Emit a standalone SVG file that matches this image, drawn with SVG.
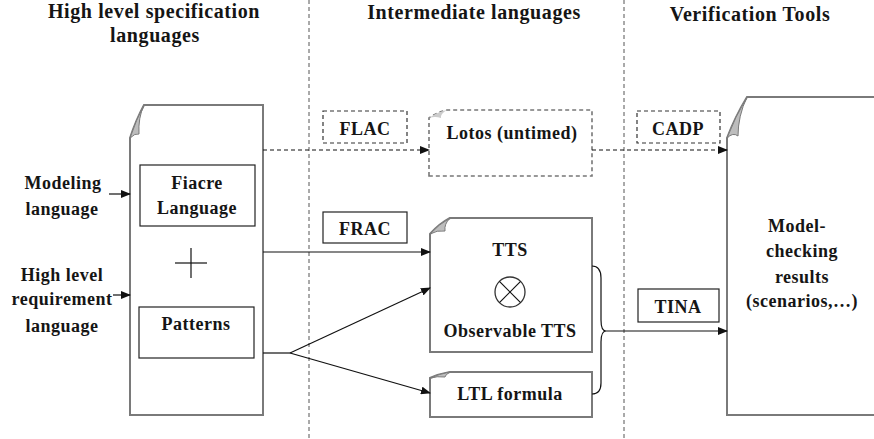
<svg xmlns="http://www.w3.org/2000/svg" width="874" height="439" viewBox="0 0 874 439">
<style>
text{font-family:"Liberation Serif","Times New Roman",serif;font-weight:bold;fill:#151515;text-anchor:middle;}
.h{font-size:20px;letter-spacing:0.6px;}
.t{font-size:18px;letter-spacing:0.5px;}
.sep{stroke:#555;stroke-width:1;stroke-dasharray:4 3;fill:none;}
.doc{fill:#fff;stroke:#7a7a7a;stroke-width:2;}
.curl{fill:#bdbdbd;stroke:#7a7a7a;stroke-width:1;}
.box{fill:#fff;stroke:#222;stroke-width:1.2;}
.dbox{fill:#fff;stroke:#333;stroke-width:1.2;stroke-dasharray:4 3;}
.ddoc{fill:#fff;stroke:#777;stroke-width:1.6;stroke-dasharray:4 3;}
.ln{stroke:#111;stroke-width:1.2;fill:none;}
.dl{stroke:#111;stroke-width:1.2;fill:none;stroke-dasharray:4 3;}
</style>
<defs>
<marker id="ah" markerWidth="10" markerHeight="8" refX="9" refY="4" orient="auto" markerUnits="userSpaceOnUse">
<path d="M0,0 L10,4 L0,8 Z" fill="#111"/>
</marker>
</defs>
<rect width="874" height="439" fill="#fff"/>
<g id="separators">
<line class="sep" x1="309" y1="0" x2="309" y2="439"/>
<line class="sep" x1="624" y1="0" x2="624" y2="439"/>
</g>
<g id="headings">
<text class="h" x="154" y="18">High level specification</text>
<text class="h" x="155" y="42">languages</text>
<text class="h" x="474" y="19">Intermediate languages</text>
<text class="h" x="750" y="21">Verification Tools</text>
</g>
<g id="inputs">
<text class="t" x="63" y="189">Modeling</text>
<text class="t" x="62" y="215">language</text>
<text class="t" x="62" y="281">High level</text>
<text class="t" x="62" y="305">requirement</text>
<text class="t" x="62" y="332">language</text>
</g>
<g id="highlevel">
<path class="doc" d="M130,415 L130,138 Q136,120 144,105 L263,105 L263,415 Z"/>
<path class="curl" d="M130,138 Q136,120 144,105 Q138,118 139,134 Q135,133 130,138 Z"/>
<g id="fiacre">
<rect class="box" x="140" y="165" width="115" height="61"/>
<text class="t" x="197" y="189">Fiacre</text>
<text class="t" x="197" y="214">Language</text>
</g>
<g id="plus">
<line class="ln" x1="175" y1="263" x2="207" y2="263" stroke-width="1"/>
<line class="ln" x1="191" y1="248" x2="191" y2="278" stroke-width="1"/>
</g>
<g id="patterns">
<rect class="box" x="139" y="307" width="115" height="51"/>
<text class="t" x="196" y="330">Patterns</text>
</g>
</g>
<g id="flac">
<rect class="dbox" x="323" y="111" width="84" height="32"/>
<text class="t" x="365" y="135">FLAC</text>
</g>
<g id="lotos">
<path class="ddoc" d="M429,176 L429,118 Q437,112 447,110 L592,110 L592,176 Z"/>
<path d="M429,118 Q437,112 447,110 Q440,114 441,118 Q435,116 429,118 Z" fill="#ccc" stroke="none"/>
<text class="t" x="512" y="139">Lotos (untimed)</text>
</g>
<g id="cadp">
<rect class="dbox" x="637" y="111" width="83" height="32"/>
<text class="t" x="678" y="135">CADP</text>
</g>
<g id="frac">
<rect class="box" x="323" y="212" width="84" height="31"/>
<text class="t" x="365" y="235">FRAC</text>
</g>
<g id="tts">
<path class="doc" d="M430,352 L430,234 Q439,224 450,218 L592,218 L592,352 Z"/>
<path class="curl" d="M430,234 Q439,224 450,218 Q444,224 445,231 Q437,230 430,234 Z"/>
<text class="t" x="510" y="256">TTS</text>
<circle cx="510" cy="292" r="15" fill="none" stroke="#333" stroke-width="1.3"/>
<line class="ln" x1="499.4" y1="281.4" x2="520.6" y2="302.6" stroke="#333"/>
<line class="ln" x1="520.6" y1="281.4" x2="499.4" y2="302.6" stroke="#333"/>
<text class="t" x="510" y="337">Observable TTS</text>
</g>
<g id="ltl">
<path class="doc" d="M430,417 L430,378 Q439,374 450,372 L592,372 L592,417 Z"/>
<path class="curl" d="M430,378 Q439,374 450,372 Q445,375 445,377 Q437,376 430,378 Z"/>
<text class="t" x="510" y="400">LTL formula</text>
</g>
<g id="tina">
<rect class="box" x="638" y="289" width="81" height="33"/>
<text class="t" x="678" y="313">TINA</text>
</g>
<g id="results">
<path class="doc" d="M727,415 L727,138 Q735,117 747,97 L880,97 L880,415 Z"/>
<path class="curl" d="M727,138 Q735,117 747,97 Q738,116 738,136 Q733,132 727,138 Z"/>
<text class="t" x="797" y="232">Model-</text>
<text class="t" x="802" y="257">checking</text>
<text class="t" x="802" y="283">results</text>
<text class="t" x="802" y="307">(scenarios,…)</text>
</g>
<g id="connectors">
<line class="ln" x1="109" y1="194" x2="130" y2="194" marker-end="url(#ah)"/>
<line class="ln" x1="113" y1="295" x2="130" y2="295" marker-end="url(#ah)"/>
<line class="dl" x1="263" y1="150" x2="429" y2="150" marker-end="url(#ah)"/>
<line class="dl" x1="592" y1="150" x2="727" y2="150" marker-end="url(#ah)"/>
<line class="ln" x1="263" y1="252" x2="430" y2="252" marker-end="url(#ah)"/>
<polyline class="ln" points="263,353 290,353"/>
<line class="ln" x1="290" y1="353" x2="430" y2="288" marker-end="url(#ah)"/>
<line class="ln" x1="290" y1="353" x2="430" y2="393" marker-end="url(#ah)"/>
<path class="ln" d="M592,266 Q601,266 601,278 L601,320 Q601,331 606,331 Q601,331 601,342 L601,383 Q601,394 592,394"/>
<line class="ln" x1="606" y1="331" x2="727" y2="331" marker-end="url(#ah)"/>
</g>
</svg>
